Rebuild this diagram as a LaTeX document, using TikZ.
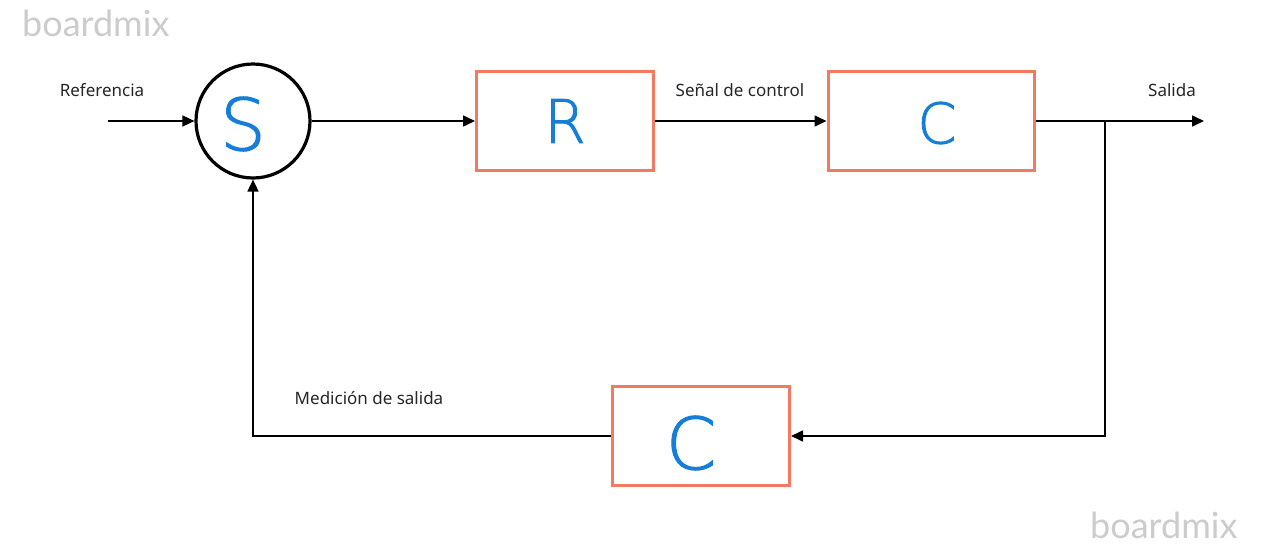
\documentclass[tikz,border=0pt]{standalone}
\usepackage{fontspec}
\setmainfont{Noto Sans}
\newfontfamily\wmfont{Lato}
\newfontfamily\handfont[BoldFont={DejaVu Sans ExtraLight},BoldFeatures={FakeBold=1.5}]{DejaVu Sans ExtraLight}
\usetikzlibrary{arrows.meta}
\definecolor{boxorange}{RGB}{243,122,96}
\definecolor{handblue}{RGB}{22,126,214}
\definecolor{wmgray}{RGB}{204,204,204}
\tikzset{
  blockbox/.style={draw=boxorange, line width=3pt, fill=white, minimum width=177pt, minimum height=99pt, inner sep=0pt},
  sumcircle/.style={circle, draw=black, line width=3.2pt, minimum size=114pt, inner sep=0pt},
  conn/.style={line width=1.6pt, draw=black},
  arr/.style={conn, -{Triangle[length=12pt,width=11pt]}},
  lbl/.style={font=\fontsize{17pt}{20pt}\selectfont, text=black!85, inner sep=0pt},
  hand/.style={font=\handfont\bfseries\fontsize{60pt}{64pt}\selectfont, text=handblue, inner sep=0pt},
  wm/.style={font=\wmfont\fontsize{36pt}{40pt}\selectfont, text=wmgray, inner sep=0pt}
}
\begin{document}
\begin{tikzpicture}[x=1pt,y=-1pt]
\useasboundingbox (0,0) rectangle (1264,549);
\fill[white] (0,0) rectangle (1264,549);
% watermarks
\node[wm, anchor=west] (wm1) at (22,23) {boardmix};
\node[wm, anchor=west] (wm2) at (1090,525) {boardmix};
% blocks
\node[sumcircle] (S) at (253,121) {};
\node[blockbox] (R) at (565,121) {};
\node[blockbox, minimum width=206pt] (C1) at (931,121) {};
\node[blockbox] (C2) at (701,436) {};
% handwritten letters
\node[hand, font=\handfont\bfseries\fontsize{72pt}{76pt}\selectfont] (hS) at (243,124) {S};
\node[hand] (hR) at (565,121) {R};
\node[hand, font=\handfont\bfseries\fontsize{56pt}{60pt}\selectfont] (hC1) at (937,123) {C};
\node[hand, font=\handfont\bfseries\fontsize{72pt}{76pt}\selectfont] (hC2) at (691,443) {C};
% coordinates
\coordinate (in) at (108,121);
\coordinate (out) at (1204,121);
\coordinate (br) at (1105,121);
\coordinate (brd) at (1105,436);
\coordinate (fbl) at (253,436);
% connectors
\draw[arr] (in) -- (S.west);
\draw[arr] (S.east) -- (R.west);
\draw[arr] (R.east) -- (C1.west);
\draw[arr] (C1.east) -- (out);
\draw[arr] (br) -- (brd) -- (C2.east);
\draw[arr] (C2.west) -- (fbl) -- (S.south);
% labels
\node[lbl] (l1) at (102,90) {Referencia};
\node[lbl] (l2) at (740,90) {Señal de control};
\node[lbl] (l3) at (1172,90) {Salida};
\node[lbl] (l4) at (369,398) {Medición de salida};
\end{tikzpicture}
\end{document}
